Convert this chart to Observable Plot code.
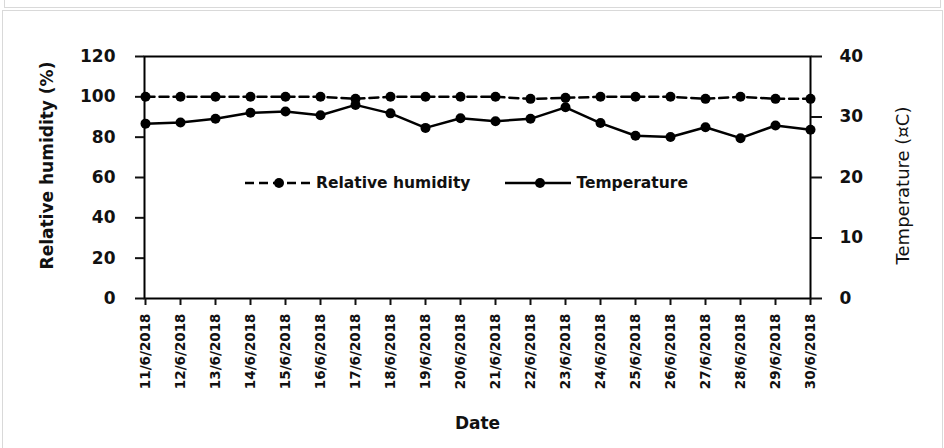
<!DOCTYPE html>
<html>
<head>
<meta charset="utf-8">
<script src="https://cdn.jsdelivr.net/npm/d3@7"></script>
<script src="https://cdn.jsdelivr.net/npm/@observablehq/plot@0.6"></script>
<style>
  html, body { margin: 0; padding: 0; background: #fff; }
  #page { position: relative; width: 944px; height: 448px; overflow: hidden; background: #fff; }
  #prev { position: absolute; left: 4px; top: -2px; width: 935px; height: 9px; border: 1px solid #d9d9d9; border-top: none; }
  #card { position: absolute; left: 2px; top: 10px; width: 939px; height: 460px; border: 1px solid #d9d9d9; border-bottom: none; }
  #chart { position: absolute; left: 0; top: 0; }
  #legend { position: absolute; left: 245px; top: 174px; display: flex; align-items: center;
            font-family: "DejaVu Sans", sans-serif; font-weight: bold; font-size: 15.5px; color: #111; }
  #legend .item { display: flex; align-items: center; }
  #legend .item + .item { margin-left: 35px; }
  #legend span { margin-left: 5px; }
</style>
</head>
<body>
<div id="page">
  <div id="prev"></div>
  <div id="card"></div>
  <div id="chart"></div>
  <div id="legend"></div>
</div>
<script>
// Daily readings, 11–30 June 2018
const dates = [
  "11/6/2018", "12/6/2018", "13/6/2018", "14/6/2018", "15/6/2018",
  "16/6/2018", "17/6/2018", "18/6/2018", "19/6/2018", "20/6/2018",
  "21/6/2018", "22/6/2018", "23/6/2018", "24/6/2018", "25/6/2018",
  "26/6/2018", "27/6/2018", "28/6/2018", "29/6/2018", "30/6/2018"
];
// Relative humidity (%)
const humidity = [
  100, 100, 100, 100, 100, 100, 99, 100, 100, 100,
  100, 99, 99.5, 100, 100, 100, 99, 100, 99, 99
];
// Temperature (°C)
const temperature = [
  28.9, 29.1, 29.7, 30.7, 30.9, 30.3, 32.0, 30.6, 28.2, 29.8,
  29.3, 29.7, 31.6, 29.0, 26.9, 26.7, 28.3, 26.5, 28.6, 27.9
];
const humidityTicks = [0, 20, 40, 60, 80, 100, 120];
const temperatureTicks = [0, 10, 20, 30, 40];
const seriesNames = ["Relative humidity", "Temperature"];
const yTitle = "Relative humidity (%)";
const y2Title = "Temperature (¤C)";
const xTitle = "Date";

// The temperature axis (0–40) shares the plot height with humidity (0–120)
const k = 120 / 40;

const rows = dates.map((date, i) => ({date, rh: humidity[i], temp: temperature[i] * k}));

const font = "DejaVu Sans, sans-serif";
const dash = "9,5";

const chart = Plot.plot({
  width: 944,
  height: 448,
  marginLeft: 144,
  marginRight: 134,
  marginTop: 56,
  marginBottom: 150,
  style: {fontFamily: font, color: "#111", background: "transparent", overflow: "visible"},
  x: {type: "point", domain: dates, padding: 0},
  y: {domain: [0, 120]},
  marks: [
    Plot.frame({stroke: "#000", strokeWidth: 2}),
    Plot.axisY(humidityTicks, {
      anchor: "left", tickSize: 9, tickPadding: 20, strokeWidth: 2,
      fontSize: 17, fontWeight: "bold", label: null
    }),
    Plot.axisY(temperatureTicks.map(t => t * k), {
      anchor: "right", tickSize: 11, tickPadding: 18, strokeWidth: 2,
      tickFormat: d => d / k, fontSize: 17, fontWeight: "bold", label: null
    }),
    Plot.axisX({
      tickRotate: -90, tickSize: 7, tickPadding: 8, strokeWidth: 2,
      fontSize: 13.5, fontWeight: "bold", label: null
    }),
    Plot.lineY(rows, {x: "date", y: "rh", stroke: "#000", strokeWidth: 2.5, strokeDasharray: dash}),
    Plot.dot(rows, {x: "date", y: "rh", r: 5, fill: "#000"}),
    Plot.lineY(rows, {x: "date", y: "temp", stroke: "#000", strokeWidth: 2.5}),
    Plot.dot(rows, {x: "date", y: "temp", r: 5, fill: "#000"}),
    Plot.text([yTitle], {text: d => d, frameAnchor: "left", textAnchor: "middle", dx: -97, dy: -12, rotate: -90, fontSize: 17, fontWeight: "bold", fill: "#111"}),
    Plot.text([y2Title], {text: d => d, frameAnchor: "right", textAnchor: "middle", dx: 93, dy: 8, rotate: -90, fontSize: 18, fill: "#111"}),
    Plot.text([xTitle], {text: d => d, frameAnchor: "bottom", dy: 130, fontSize: 17, fontWeight: "bold", fill: "#111"})
  ]
});
document.getElementById("chart").appendChild(chart);

// Legend: line-and-dot swatches
const legend = d3.select("#legend");
seriesNames.forEach((name, i) => {
  const item = legend.append("div").attr("class", "item");
  const svg = item.append("svg").attr("width", 66).attr("height", 14);
  svg.append("line").attr("x1", 0).attr("x2", 66).attr("y1", 7).attr("y2", 7)
    .attr("stroke", "#000").attr("stroke-width", 2.5)
    .attr("stroke-dasharray", i === 0 ? dash : null);
  svg.append("circle").attr("cx", i === 0 ? 34 : 35).attr("cy", 7).attr("r", 5).attr("fill", "#000");
  item.append("span").text(name);
});
</script>
</body>
</html>
